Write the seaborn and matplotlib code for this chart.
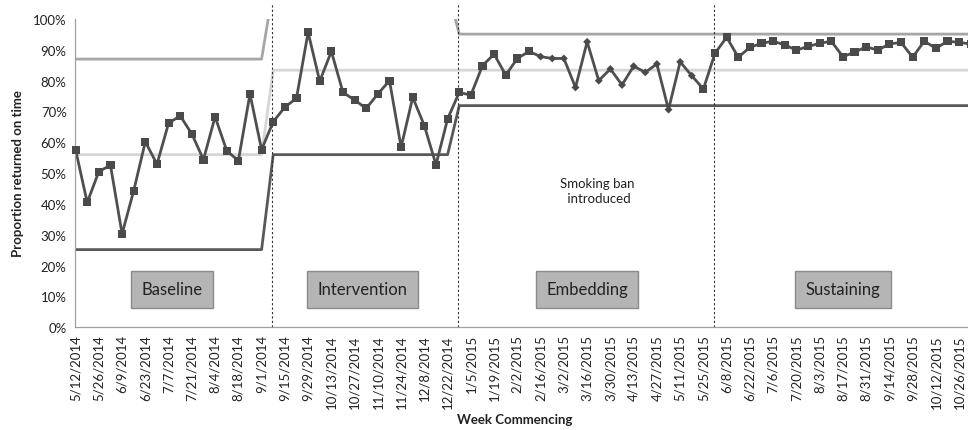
import numpy as np
import pandas as pd
import matplotlib
matplotlib.use("Agg")
import matplotlib.pyplot as plt
import seaborn as sns

# weekly proportion returned on time (%), weeks from 5/12/2014
values = [57.6, 40.5, 50.5, 52.6, 30.3, 44.3, 60.2, 52.9, 66.2, 68.6,
          62.7, 54.4, 68.3, 57.3, 54.0, 75.7, 57.6, 66.7, 71.4, 74.3,
          95.7, 79.8, 89.5, 76.2, 73.7, 71.0, 75.7, 80.0, 58.4, 74.6,
          65.4, 52.7, 67.6, 76.2, 75.3, 84.9, 88.6, 81.8, 87.2, 89.5,
          87.8, 87.2, 87.2, 77.8, 92.6, 80.0, 83.8, 78.6, 84.7, 82.7,
          85.4, 70.6, 86.1, 81.6, 77.3, 88.9, 94.1, 87.6, 90.8, 92.1,
          92.8, 91.6, 89.9, 91.1, 92.1, 92.8, 87.8, 89.2, 91.0, 89.9,
          91.9, 92.4, 87.6, 92.8, 90.5, 92.8, 92.4, 91.9]
# weeks drawn with a diamond instead of a square
diamond_weeks = list(range(40, 54))

week_labels = ["5/12/2014", "5/26/2014", "6/9/2014", "6/23/2014", "7/7/2014",
               "7/21/2014", "8/4/2014", "8/18/2014", "9/1/2014", "9/15/2014",
               "9/29/2014", "10/13/2014", "10/27/2014", "11/10/2014", "11/24/2014",
               "12/8/2014", "12/22/2014", "1/5/2015", "1/19/2015", "2/2/2015",
               "2/16/2015", "3/2/2015", "3/16/2015", "3/30/2015", "4/13/2015",
               "4/27/2015", "5/11/2015", "5/25/2015", "6/8/2015", "6/22/2015",
               "7/6/2015", "7/20/2015", "8/3/2015", "8/17/2015", "8/31/2015",
               "9/14/2015", "9/28/2015", "10/12/2015", "10/26/2015"]

# control chart limits per phase (baseline, intervention, embedding+sustaining)
phase_weeks = [17, 16, 45]
lcl = [25.2, 56.0, 71.9]
centre = [56.0, 83.4, 83.4]
ucl = [87.0, 110.0, 95.1]

phases = ["Baseline", "Intervention", "Embedding", "Sustaining"]
phase_breaks = [16.9, 32.93, 54.95]

df = pd.DataFrame({"week": np.arange(len(values)), "pct": values})
df["marker"] = np.where(df["week"].isin(diamond_weeks), "d", "s")
df["lcl"] = np.repeat(lcl, phase_weeks)
df["centre"] = np.repeat(centre, phase_weeks)
df["ucl"] = np.repeat(ucl, phase_weeks)

sns.set_style("white")
plt.rcParams["font.family"] = ["Lato", "DejaVu Sans"]

fig = plt.figure(figsize=(9.68, 4.31), dpi=100)
ax = fig.add_axes([75 / 968, 1 - 328.3 / 431, 893 / 968, 308.3 / 431])

sns.lineplot(data=df, x="week", y="ucl", ax=ax, color="#a6a6a6", lw=2)
sns.lineplot(data=df, x="week", y="centre", ax=ax, color="#d6d6d6", lw=2)
sns.lineplot(data=df, x="week", y="lcl", ax=ax, color="#595959", lw=2)
sns.lineplot(data=df, x="week", y="pct", ax=ax, color="#4f4f4f", lw=2, clip_on=False)
sns.scatterplot(data=df, x="week", y="pct", style="marker", markers={"s": "s", "d": "D"},
                size="marker", sizes={"s": 34, "d": 16}, color="#4a4a4a",
                edgecolor="none", ax=ax, legend=False, clip_on=False, zorder=5)

for xb in phase_breaks:
    ax.axvline(xb, ymin=0, ymax=1.05, color="#333333", lw=0.8, ls=(0, (2, 2)), clip_on=False)

box = dict(boxstyle="square,pad=0.62", fc="#b5b5b5", ec="#8a8a8a", lw=1)
box_x = [8.3, 24.7, 44.0, 66.0]
for name, bx in zip(phases, box_x):
    ax.text(bx, 12.3, name, ha="center", va="center", fontsize=12, bbox=box, color="#222222")

ax.text(44.9, 44.3, "Smoking ban\n introduced", ha="center", va="center",
        fontsize=9.5, color="#222222", linespacing=1.25)

ax.set_xlim(-0.05, 76.76)
ax.set_ylim(0, 100)
ax.set_yticks(np.arange(0, 101, 10))
ax.set_yticklabels([f"{v}%" for v in range(0, 101, 10)], fontsize=9.5)
ax.set_xticks(np.arange(0, 77))
ax.set_xticklabels([week_labels[i // 2] if i % 2 == 0 else "" for i in range(77)],
                   rotation=90, fontsize=9.5)
ax.tick_params(axis="both", direction="out", length=4, width=0.8, color="#a0a0a0",
               pad=2, labelcolor="#222222")
ax.tick_params(axis="x", length=3)

for side in ["top", "right"]:
    ax.spines[side].set_visible(False)
for side in ["left", "bottom"]:
    ax.spines[side].set_color("#a0a0a0")
    ax.spines[side].set_linewidth(0.9)

ax.set_xlabel("")
ax.set_ylabel("")
fig.text(515 / 968, 1 - 420 / 431, "Week Commencing", ha="center", va="center",
         fontsize=9.5, fontweight="bold", color="#222222")
fig.text(18 / 968, 1 - 174 / 431, "Proportion returned on time", ha="center", va="center",
         rotation=90, fontsize=9.5, fontweight="bold", color="#222222")

fig.savefig("out.png", dpi=100)
